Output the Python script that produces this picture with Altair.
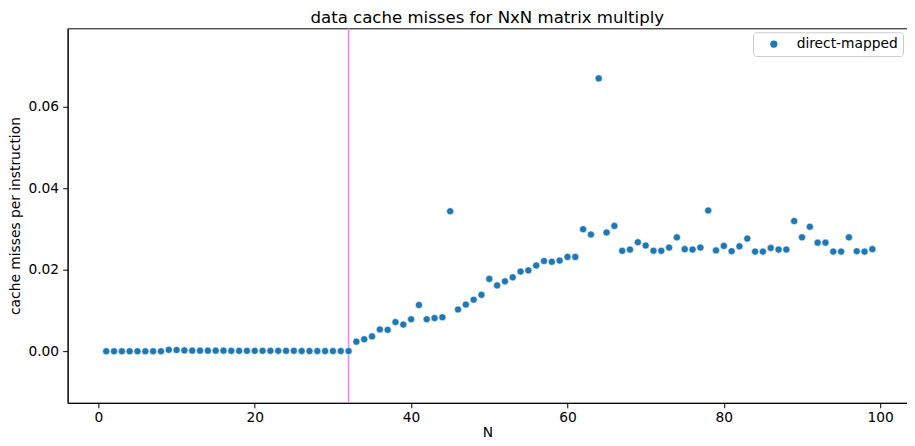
import altair as alt
import pandas as pd

n_values = list(range(1, 100))
misses = [
    0.00005, 0.00005, 0.00005, 0.00005, 0.00005, 0.00005, 0.00005, 0.00005, 0.0004, 0.00035,  # 1-10
    0.00025, 0.0002, 0.0002, 0.0002, 0.0002, 0.0002, 0.00015, 0.00015, 0.00015, 0.00015,      # 11-20
    0.00015, 0.00015, 0.00015, 0.00015, 0.00015, 0.0001, 0.0001, 0.0001, 0.0001, 0.0001,      # 21-30
    0.0001, 0.0001, 0.0024, 0.0030, 0.0037, 0.0054, 0.0053, 0.0072, 0.0066, 0.0079,           # 31-40
    0.0114, 0.0079, 0.0082, 0.0084, 0.0344, 0.0103, 0.0115, 0.0127, 0.0139, 0.0178,           # 41-50
    0.0162, 0.0172, 0.0182, 0.0196, 0.0199, 0.0211, 0.0222, 0.0220, 0.0223, 0.0232,           # 51-60
    0.0232, 0.0300, 0.0287, 0.0670, 0.0292, 0.0308, 0.0247, 0.0250, 0.0268, 0.0260,           # 61-70
    0.0247, 0.0247, 0.0255, 0.0280, 0.0251, 0.0250, 0.0255, 0.0346, 0.0248, 0.0259,           # 71-80
    0.0246, 0.0258, 0.0277, 0.0245, 0.0245, 0.0254, 0.0250, 0.0250, 0.0320, 0.0280,           # 81-90
    0.0306, 0.0267, 0.0267, 0.0245, 0.0245, 0.0280, 0.0246, 0.0245, 0.0251,                   # 91-99
]
series_name = "direct-mapped"
vline_at = [32]
x_ticks = [0, 20, 40, 60, 80, 100]
y_ticks = [0.0, 0.02, 0.04, 0.06]

df = pd.DataFrame({"N": n_values, "misses": misses, "series": [series_name] * len(n_values)})
vdf = pd.DataFrame({"N": vline_at})

FONT = "DejaVu Sans"

xscale = alt.Scale(domain=[-3.94, 103.43], nice=False, zero=False)
yscale = alt.Scale(domain=[-0.0126, 0.0793], nice=False, zero=False)

xaxis = alt.Axis(values=x_ticks, title="N", grid=False, tickSize=5, labelPadding=3,
                 titlePadding=1, format="d")
yaxis = alt.Axis(values=y_ticks, title="cache misses per instruction", grid=False,
                 tickSize=5, labelPadding=4, titlePadding=5, format=".2f")

points = alt.Chart(df).mark_point(filled=True, opacity=1, stroke="white",
                                  strokeWidth=0.6, size=52).encode(
    x=alt.X("N:Q", scale=xscale, axis=xaxis),
    y=alt.Y("misses:Q", scale=yscale, axis=yaxis),
    color=alt.Color("series:N", scale=alt.Scale(domain=[series_name], range=["#1f77b4"]),
                    legend=alt.Legend(title=None, orient="top-right", offset=4,
                                      strokeColor="#cccccc", fillColor="white",
                                      padding=5, cornerRadius=3, symbolOffset=9,
                                      labelOffset=16, symbolSize=52,
                                      symbolStrokeWidth=0, labelFontSize=13.9,
                                      labelFont=FONT, labelColor="black")),
)

vline = alt.Chart(vdf).mark_rule(color="violet", strokeWidth=1.5).encode(
    x=alt.X("N:Q", scale=xscale)
)

chart = alt.layer(vline, points).properties(
    width=845,
    height=377,
    autosize=alt.AutoSizeParams(type="none"),
    padding={"left": 60, "top": 19, "right": 0, "bottom": 37},
    title=alt.TitleParams("data cache misses for NxN matrix multiply", font=FONT,
                          fontSize=16.7, fontWeight="normal", color="black",
                          anchor="middle", offset=1),
).configure_axis(
    labelFont=FONT, titleFont=FONT, labelFontSize=13.9, titleFontSize=13.9,
    titleFontWeight="normal", labelColor="black", titleColor="black",
    domainColor="black", tickColor="black", domainWidth=1, tickWidth=1,
).configure_view(
    stroke="black", strokeWidth=1
)

chart.save("out.html", embed_options={"renderer": "svg", "actions": False})
